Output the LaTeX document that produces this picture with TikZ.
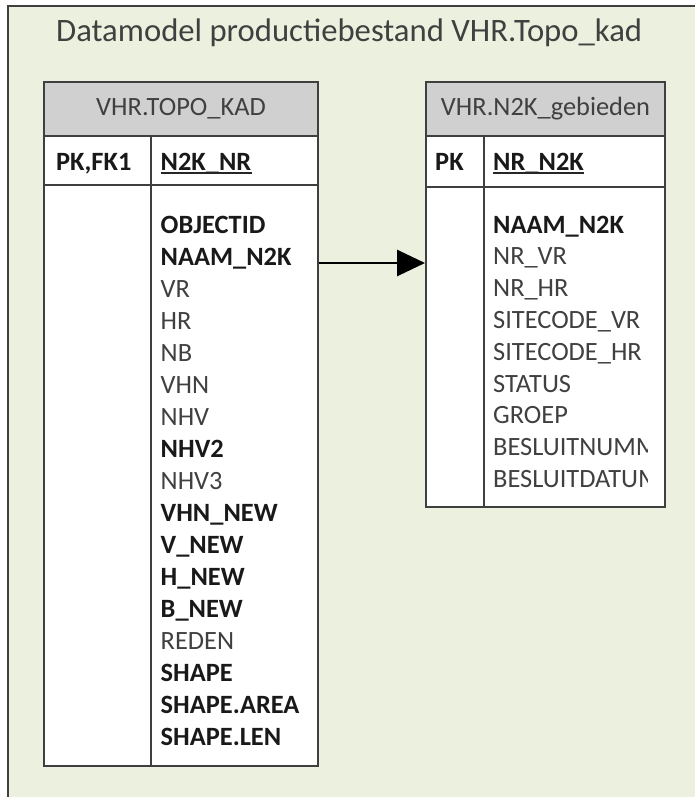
\documentclass[tikz,border=0pt]{standalone}
\usepackage{fontspec}
\setmainfont{Carlito}
\usetikzlibrary{positioning}
\usetikzlibrary{arrows.meta}
\definecolor{bgGreen}{HTML}{EBF1DE}
\definecolor{hdrGray}{HTML}{D0D0D0}
\definecolor{lineGray}{HTML}{3F3F3F}
\definecolor{txtGray}{HTML}{404040}

\begin{document}
\begin{tikzpicture}[x=1pt, y=-1pt,
	frame/.style = {draw=lineGray, line width=2pt},
	tbl/.style = {draw=lineGray, line width=2pt, fill=white,
		anchor=north west, inner sep=0},
	hdr/.style = {tbl, fill=hdrGray, text=txtGray,
		font=\fontsize{26.4}{30}\selectfont},
	fld/.style = {anchor=base west, inner sep=0, text=txtGray,
		font=\fontsize{26.4}{30}\selectfont},
	key/.style = {fld, text=black!90,
		font=\fontsize{26.4}{30}\selectfont\bfseries},
	pkline/.style = {draw=black!85, line width=1.3pt}
	]
	\useasboundingbox (0,0) rectangle (695,797);
	\fill [bgGreen] (7.5,6.5) rectangle (695,797);
	\draw [frame] (7.5,797) -- (7.5,6.5) -- (695,6.5);
	\node (title) [anchor=base west, inner sep=0, text=txtGray,
	font=\fontsize{32.7}{38}\selectfont] at (56,42)
	{Datamodel productiebestand VHR.Topo\_kad};
	
	% left table
	\node (topo) [tbl, minimum width=274pt, minimum height=684pt] at (43,81) {};
	\node (topoHead) [hdr, minimum width=274pt, minimum height=54pt]
	at (topo.north west) {VHR.TOPO\_KAD};
	\draw [frame] (topo.west |- 0,185) -- (topo.east |- 0,185);
	\draw [frame] (150.5,0 |- topoHead.south) -- (150.5,0 |- topo.south);
	\node (topoPK) [key] at (56,170) {PK,FK1};
	\node (topoKey) [key] at (160.5,170) {N2K\_NR};
	\draw [pkline] ([yshift=-3pt]topoKey.base west) -- ([yshift=-3pt]topoKey.base east);
	\foreach \fname/\fstyle [count=\i] in {OBJECTID/key, NAAM\_N2K/key,
		VR/fld, HR/fld, NB/fld, VHN/fld, NHV/fld, NHV2/key, NHV3/fld,
		VHN\_NEW/key, V\_NEW/key, H\_NEW/key, B\_NEW/key, REDEN/fld,
		SHAPE/key, SHAPE.AREA/key, SHAPE.LEN/key}
	\node (topo-\i) [\fstyle] at (160.5,201+32*\i) {\fname};
	
	% right table
	\node (n2k) [tbl, minimum width=239pt, minimum height=425pt] at (425,81) {};
	\node (n2kHead) [hdr, minimum width=239pt, minimum height=54pt]
	at (n2k.north west) {VHR.N2K\_gebieden};
	\draw [frame] (n2k.west |- 0,187) -- (n2k.east |- 0,187);
	\draw [frame] (483.5,0 |- n2kHead.south) -- (483.5,0 |- n2k.south);
	\node (n2kPK) [key] at (435,170) {PK};
	\node (n2kKey) [key] at (493,170) {NR\_N2K};
	\draw [pkline] ([yshift=-3pt]n2kKey.base west) -- ([yshift=-3pt]n2kKey.base east);
	\begin{scope}
		\clip (483,187) rectangle (647,505);
		\foreach \fname/\fstyle [count=\i] in {NAAM\_N2K/key, NR\_VR/fld,
			NR\_HR/fld, SITECODE\_VR/fld, SITECODE\_HR/fld, STATUS/fld,
			GROEP/fld, BESLUITNUMM/fld, BESLUITDATUM/fld}
		\node (n2k-\i) [\fstyle] at (493,201.2+31.8*\i) {\fname};
	\end{scope}
	
	% foreign key
	\coordinate (fkOut) at (topo.east |- 0,263);
	\coordinate (fkIn) at (n2k.west |- 0,263);
	\draw [-{Triangle[length=28pt, width=26pt]}, line width=2.8pt] (fkOut) -- (fkIn);
\end{tikzpicture}
\end{document}
